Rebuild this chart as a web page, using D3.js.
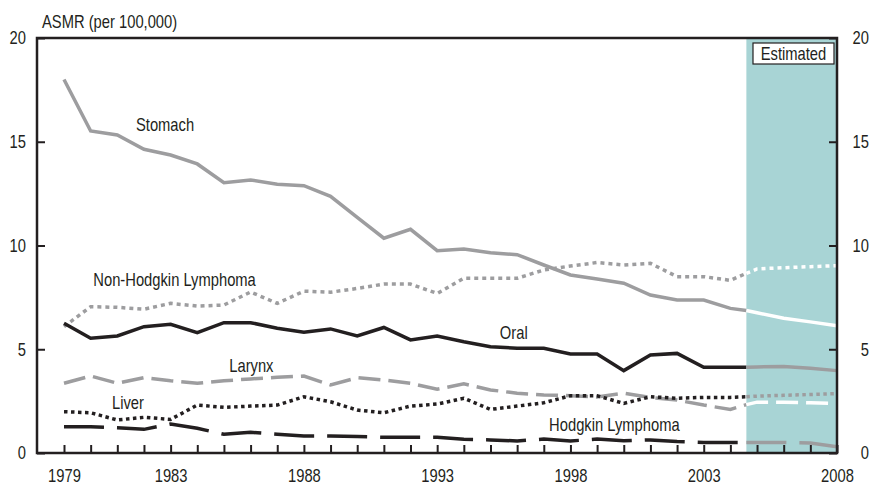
<!DOCTYPE html>
<html>
<head>
<meta charset="utf-8">
<script src="https://cdn.jsdelivr.net/npm/d3@7"></script>
<style>
  body { margin: 0; background: #fff; }
  text { font-family: "Liberation Sans", Arial, sans-serif; fill: #231f20; }
</style>
</head>
<body>
<div id="chart"></div>
<script>
// observed years 1979 - 2004, estimated part starts at the shade edge
var obsYears = d3.range(1979, 2005);
var estYears = [2004.6, 2005, 2006, 2007, 2008];
var shadeStart = 2004.6;
var yTicks = [0, 5, 10, 15, 20];
var yearLabels = [1979, 1983, 1988, 1993, 1998, 2003, 2008];

var stomachObs = [18.0, 15.52, 15.33, 14.64, 14.36, 13.93, 13.03, 13.16, 12.95, 12.88, 12.37, 11.35, 10.35, 10.78, 9.75, 9.83, 9.65, 9.56, 9.06, 8.58, 8.39, 8.18, 7.61, 7.37, 7.37, 6.97];
var stomachEst = [6.87, 6.76, 6.49, 6.32, 6.13];
var nhlObs = [6.09, 7.05, 7.02, 6.93, 7.21, 7.08, 7.13, 7.76, 7.21, 7.8, 7.75, 7.93, 8.14, 8.14, 7.69, 8.42, 8.42, 8.42, 8.82, 9.01, 9.18, 9.06, 9.14, 8.5, 8.5, 8.32];
var nhlEst = [8.66, 8.87, 8.93, 8.98, 9.03];
var oralObs = [6.25, 5.53, 5.64, 6.09, 6.2, 5.8, 6.28, 6.28, 6.01, 5.82, 5.98, 5.64, 6.05, 5.45, 5.64, 5.36, 5.12, 5.05, 5.05, 4.77, 4.77, 3.97, 4.72, 4.8, 4.13, 4.13];
var oralEst = [4.13, 4.15, 4.17, 4.08, 3.97];
var larynxObs = [3.36, 3.71, 3.36, 3.63, 3.48, 3.36, 3.48, 3.57, 3.65, 3.71, 3.28, 3.63, 3.52, 3.36, 3.07, 3.33, 3.04, 2.88, 2.8, 2.76, 2.7, 2.88, 2.68, 2.55, 2.31, 2.1];
var larynxEst = [2.33, 2.45, 2.45, 2.42, 2.38];
var liverObs = [1.99, 1.94, 1.59, 1.72, 1.62, 2.31, 2.2, 2.26, 2.31, 2.71, 2.47, 2.07, 1.94, 2.26, 2.36, 2.64, 2.1, 2.26, 2.42, 2.76, 2.76, 2.39, 2.71, 2.64, 2.68, 2.68];
var liverEst = [2.71, 2.74, 2.78, 2.82, 2.86];
var hodgkinObs = [1.27, 1.27, 1.22, 1.14, 1.4, 1.19, 0.9, 1.0, 0.9, 0.82, 0.82, 0.79, 0.76, 0.76, 0.76, 0.66, 0.63, 0.58, 0.67, 0.58, 0.67, 0.59, 0.63, 0.55, 0.51, 0.51];
var hodgkinEst = [0.51, 0.51, 0.51, 0.48, 0.3];

var black = "#231f20", grey = "#9d9d9f", white = "#ffffff";

var series = [
  {name: "Stomach", obs: stomachObs, est: stomachEst, color: grey, estColor: white, dash: null, lx: 1981.7, ly: 15.5},
  {name: "Non-Hodgkin Lymphoma", obs: nhlObs, est: nhlEst, color: grey, estColor: white, dash: "4,4", lx: 1980.1, ly: 8.05},
  {name: "Oral", obs: oralObs, est: oralEst, color: black, estColor: grey, dash: null, lx: 1995.35, ly: 5.5},
  {name: "Larynx", obs: larynxObs, est: larynxEst, color: grey, estColor: white, dash: "22,8", lx: 1985.2, ly: 3.9},
  {name: "Liver", obs: liverObs, est: liverEst, color: black, estColor: grey, dash: "3.5,3.5", lx: 1980.8, ly: 2.1},
  {name: "Hodgkin Lymphoma", obs: hodgkinObs, est: hodgkinEst, color: black, estColor: grey, dash: "40,13", lx: 1997.2, ly: 1.04}
];

var W = 871, H = 484;
var plotL = 37, plotR = 837, plotT = 38, plotB = 453;
var squeeze = 0.82; // narrow type: Liberation Sans squeezed sideways

// squeeze a text sideways while keeping its anchor point
function condense(sel) {
  sel.each(function(){
    var t = d3.select(this);
    var xv = +t.attr("x") || 0;
    t.attr("x", xv / squeeze).attr("transform", "scale(" + squeeze + ",1)");
  });
}

var svg = d3.select("#chart")
    .append("svg")
    .attr("width", W)
    .attr("height", H);

var x = d3.scaleLinear().domain([1979, 2008]).range([64, plotR]);
var y = d3.scaleLinear().domain([0, 20]).range([plotB, plotT]);

// estimated shading
svg.append("rect")
    .attr("x", x(shadeStart))
    .attr("y", plotT)
    .attr("width", plotR - x(shadeStart))
    .attr("height", plotB - plotT)
    .style("fill", "#a8d4d5");

// axes
var xAxis = svg.append("g")
    .attr("transform", "translate(0," + plotB + ")")
    .call(d3.axisBottom(x)
        .tickValues(d3.range(1979, 2009))
        .tickSize(-8)
        .tickPadding(16)
        .tickFormat(function(d){ return yearLabels.indexOf(d) >= 0 ? d : ""; }));

var yLeft = svg.append("g")
    .attr("transform", "translate(" + plotL + ",0)")
    .call(d3.axisLeft(y).tickValues(yTicks).tickSize(-8).tickPadding(11));

var yRight = svg.append("g")
    .attr("transform", "translate(" + plotR + ",0)")
    .call(d3.axisRight(y).tickValues(yTicks).tickSize(-8).tickPadding(32));

yRight.selectAll("text").attr("text-anchor", "end");

[xAxis, yLeft, yRight].forEach(function(g){
  g.select(".domain").remove();
  g.selectAll("line").style("stroke", black).style("stroke-width", 2);
  g.attr("font-family", null).attr("font-size", null);
  g.selectAll("text")
    .style("font-size", "18px")
    .attr("fill", black)
    .call(condense);
});

// lines
var line = d3.line()
    .x(function(d){ return x(d[0]); })
    .y(function(d){ return y(d[1]); });

series.forEach(function(s){
  var obsPts = obsYears.map(function(yr, i){ return [yr, s.obs[i]]; });
  obsPts.push([estYears[0], s.est[0]]);
  var estPts = estYears.map(function(yr, i){ return [yr, s.est[i]]; });

  svg.append("path")
    .datum(obsPts)
    .attr("d", line)
    .style("fill", "none")
    .style("stroke", s.color)
    .style("stroke-width", 3.5)
    .style("stroke-dasharray", s.dash);

  svg.append("path")
    .datum(estPts)
    .attr("d", line)
    .style("fill", "none")
    .style("stroke", s.estColor)
    .style("stroke-width", 3.5)
    .style("stroke-dasharray", s.dash);

  svg.append("text")
    .attr("x", x(s.lx))
    .attr("y", y(s.ly))
    .style("font-size", "18px")
    .text(s.name)
    .call(condense);
});

// frame
svg.append("rect")
    .attr("x", plotL)
    .attr("y", plotT)
    .attr("width", plotR - plotL)
    .attr("height", plotB - plotT)
    .style("fill", "none")
    .style("stroke", black)
    .style("stroke-width", 2.5);

// estimated box
svg.append("rect")
    .attr("x", 753)
    .attr("y", 43)
    .attr("width", 81)
    .attr("height", 21)
    .style("fill", "#fff")
    .style("stroke", black)
    .style("stroke-width", 1.2);

svg.append("text")
    .attr("x", 793.5)
    .attr("y", 60)
    .attr("text-anchor", "middle")
    .style("font-size", "18px")
    .text("Estimated")
    .call(condense);

// axis title
svg.append("text")
    .attr("x", 42)
    .attr("y", 28)
    .style("font-size", "18px")
    .text("ASMR (per 100,000)")
    .call(condense);
</script>
</body>
</html>
